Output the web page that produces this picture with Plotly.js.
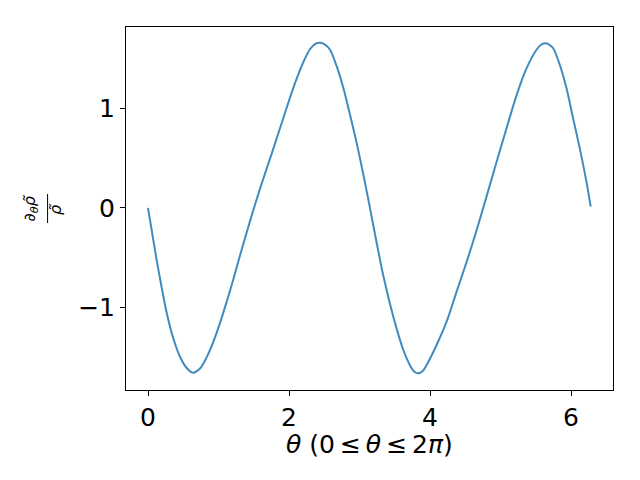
<!DOCTYPE html>
<html>
<head>
<meta charset="utf-8">
<script src="https://cdn.plot.ly/plotly-3.0.1.min.js"></script>
<style>
  html, body { margin: 0; padding: 0; background: #fff; }
  #chart { width: 640px; height: 480px; }
</style>
</head>
<body>
<div id="chart"></div>
<script>
// Values
const thetaVals = [
    0.000, 0.057, 0.127, 0.198, 0.269, 0.363, 0.457, 0.552, 0.637, 0.741,
    0.836, 0.929, 1.024, 1.119, 1.212, 1.300, 1.390, 1.480, 1.570, 1.660,
    1.750, 1.840, 1.930, 2.020, 2.110, 2.204, 2.299, 2.370, 2.440, 2.510,
    2.582, 2.677, 2.771, 2.865, 2.960, 3.054, 3.148, 3.244, 3.337, 3.432,
    3.527, 3.620, 3.715, 3.770, 3.833, 3.900, 3.952, 4.093, 4.235, 4.377,
    4.518, 4.660, 4.802, 4.943, 5.085, 5.227, 5.368, 5.510, 5.570, 5.627,
    5.690, 5.745, 5.840, 5.935, 6.028, 6.123, 6.218, 6.279
];
const ratioVals = [
    0.000, -0.245, -0.540, -0.815, -1.065, -1.320, -1.500, -1.611, -1.655, -1.611,
    -1.494, -1.340, -1.150, -0.935, -0.715, -0.490, -0.270, -0.055, 0.150, 0.345,
    0.535, 0.730, 0.925, 1.120, 1.300, 1.465, 1.595, 1.645, 1.657, 1.640,
    1.588, 1.420, 1.203, 0.935, 0.650, 0.335, 0.000, -0.355, -0.680, -0.965,
    -1.215, -1.425, -1.580, -1.640, -1.661, -1.635, -1.578, -1.377, -1.143, -0.841,
    -0.545, -0.225, 0.115, 0.460, 0.800, 1.130, 1.400, 1.588, 1.635, 1.652,
    1.640, 1.605, 1.437, 1.203, 0.902, 0.600, 0.264, 0.013
];
const xTicks = [0, 2, 4, 6];
const yTicks = [-1, 0, 1];

const FONT = 'DejaVu Sans, sans-serif';
const BLUE = '#1f77b4';

const trace = {
    type: 'scatter',
    mode: 'lines',
    x: thetaVals,
    y: ratioVals,
    line: { color: BLUE, width: 2, shape: 'spline', smoothing: 0.8 },
    opacity: 0.85,
    hoverinfo: 'skip'
};

const axisCommon = {
    showgrid: false,
    zeroline: false,
    showline: true,
    mirror: true,
    linecolor: '#000',
    linewidth: 1,
    ticks: 'outside',
    ticklen: 5,
    tickwidth: 1,
    tickcolor: '#000',
    tickfont: { family: FONT, size: 25, color: '#000' }
};

const layout = {
    width: 640,
    height: 480,
    margin: { l: 126, r: 27, t: 27, b: 90 },
    paper_bgcolor: '#fff',
    plot_bgcolor: '#fff',
    showlegend: false,
    font: { family: FONT, color: '#000' },
    xaxis: Object.assign({}, axisCommon, {
        range: [-0.312, 6.595],
        tickvals: xTicks,
        ticklabelstandoff: 0
    }),
    yaxis: Object.assign({}, axisCommon, {
        range: [-1.829, 1.816],
        tickvals: yTicks,
        ticklabelstandoff: 0
    }),
    annotations: [
        // x label
        {
            xref: 'paper', yref: 'paper', x: 0.5, y: -0.149,
            xanchor: 'center', yanchor: 'middle',
            text: '<i>θ</i> (0\u2009≤\u2009<i>θ</i>\u2009≤\u20092<i>π</i>)',
            showarrow: false,
            font: { family: FONT, size: 25, color: '#000' }
        },
        // y label drawn as a rotated fraction
        {
            xref: 'paper', yref: 'paper', x: -0.196, y: 0.499,
            xanchor: 'center', yanchor: 'middle',
            text: '<i>∂</i><sub><i>θ</i></sub><i>ρ̃</i>',
            textangle: -90, showarrow: false,
            font: { family: FONT, size: 16, color: '#000' }
        },
        {
            xref: 'paper', yref: 'paper', x: -0.145, y: 0.497,
            xanchor: 'center', yanchor: 'middle',
            text: '<i>ρ̃</i>',
            textangle: -90, showarrow: false,
            font: { family: FONT, size: 16, color: '#000' }
        }
    ],
    shapes: [
        {
            type: 'line', xref: 'paper', yref: 'paper',
            x0: -0.161, x1: -0.161, y0: 0.540, y1: 0.460,
            line: { color: '#000', width: 1 }
        }
    ]
};

Plotly.newPlot('chart', [trace], layout, { displayModeBar: false, staticPlot: true });
</script>
</body>
</html>
